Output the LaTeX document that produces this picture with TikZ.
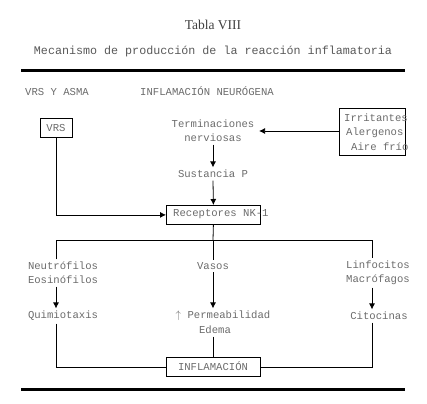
\documentclass[tikz,border=0pt]{standalone}
\usepackage{fontspec}
\setmonofont{Liberation Mono}
\newfontfamily\capfont{Liberation Serif}
\usetikzlibrary{arrows.meta}
\begin{document}
\begin{tikzpicture}[x=1pt,y=-1pt,
  txt/.style={font=\ttfamily\fontsize{10.6}{14}\selectfont, text=black!58, inner sep=2.5pt, align=center},
  ln/.style={line width=0.8pt},
  arr/.style={ln,-{Latex[length=6pt,width=6pt]}},
  bx/.style={draw, line width=0.8pt, inner sep=0pt},
  rule/.style={line width=3pt}]
\useasboundingbox (0,0) rectangle (427,403);
% headings
\node[font=\capfont\fontsize{13.5}{15}\selectfont, text=black!75, inner sep=0pt] (tab) at (213,25) {Tabla VIII};
\node[font=\ttfamily\fontsize{11.7}{14}\selectfont, text=black!65, inner sep=0pt] (tit) at (213,51) {Mecanismo de producción de la reacción inflamatoria};
\coordinate (r1a) at (21,71); \coordinate (r1b) at (405,71);
\draw[rule] (r1a) -- (r1b);
\coordinate (r2a) at (21,389); \coordinate (r2b) at (405,389);
\draw[rule] (r2a) -- (r2b);
\node[txt, anchor=west, inner sep=0pt] (vrsasma) at (25,92) {VRS Y ASMA};
\node[txt, anchor=west, inner sep=0pt] (infneu) at (140,91) {INFLAMACIÓN NEURÓGENA};
% top part
\node[bx, minimum width=32pt, minimum height=19pt] (vrs) at (56,128) {};
\node[txt] (vrst) at (56,128) {VRS};
\node[bx, minimum width=66pt, minimum height=47pt, anchor=north west] (irr) at (339,108) {};
\node[txt, anchor=west, inner sep=0pt] (irr1) at (344,118) {Irritantes};
\node[txt, anchor=west, inner sep=0pt] (irr2) at (346,133) {Alergenos};
\node[txt, anchor=west, inner sep=0pt] (irr3) at (351,147) {Aire frío};
\node[txt] (ter) at (213,131) {Terminaciones\\nerviosas};
\node[txt] (sus) at (213,174) {Sustancia P};
\node[bx, minimum width=94pt, minimum height=19pt, anchor=north west] (rec) at (166,205) {};
\node[txt, anchor=west, inner sep=0pt] (rect) at (173,214.5) {Receptores NK-1};
\draw[arr] (irr.west |- ter.east) -- ([xshift=2pt]ter.east);
\draw[arr] (ter.south) -- (sus.north);
\draw[arr] (sus.south) -- (rec.north);
\draw[arr] (vrs.south) |- (rec.west);
% middle
\coordinate (j) at (213,240);
\coordinate (jl) at (56,240);
\coordinate (jr) at (372,240);
\node[txt] (neu) at (63,273) {Neutrófilos\\Eosinófilos};
\node[txt] (vas) at (213,266) {Vasos};
\node[txt] (lin) at (378,273) {Linfocitos\\Macrófagos};
\node[txt] (qui) at (63,316) {Quimiotaxis};
\node[txt] (per) at (223,316) {$\uparrow$ Permeabilidad};
\node[txt] (ede) at (215,330) {Edema};
\node[txt] (cit) at (379,316) {Citocinas};
\draw[ln] (rec.south) -- (j);
\draw[ln] (jl |- neu.north) -- (jl) -- (jr) -- (jr |- lin.north);
\draw[ln] (j) -- (vas.north);
\draw[arr] (jl |- neu.south) -- (jl |- qui.north);
\draw[arr] (vas.south) -- (vas.south |- per.north);
\draw[arr] (jr |- lin.south) -- (jr |- cit.north);
% bottom
\node[bx, minimum width=94pt, minimum height=19pt, anchor=north west] (inf) at (166,357) {};
\node[txt] (inft) at (213,366.5) {INFLAMACIÓN};
\draw[ln] (jl |- qui.south) |- (inf.west);
\draw[ln] (jr |- cit.south) |- (inf.east);
\draw[ln] (inf.north |- ede.south) -- (inf.north);
\end{tikzpicture}
\end{document}
